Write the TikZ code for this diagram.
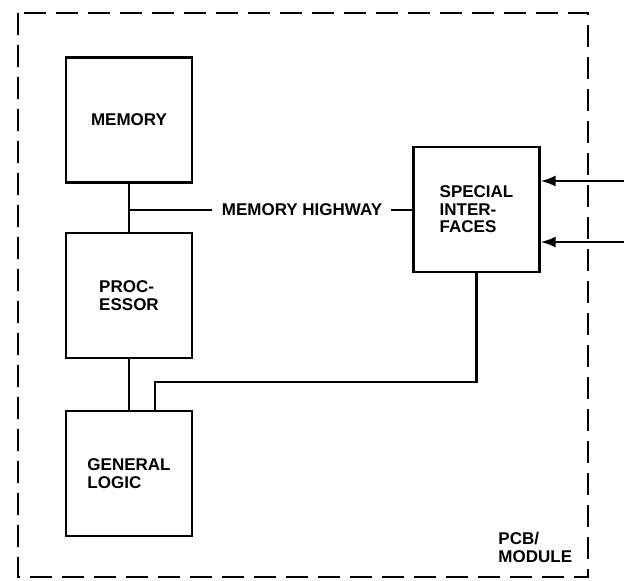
\documentclass[tikz,border=0pt]{standalone}
\usepackage{fontspec}
\setmainfont{Liberation Sans}
\usepackage{tikz}
\usetikzlibrary{arrows.meta,positioning}

\begin{document}
\begin{tikzpicture}[x=1pt,y=-1pt,line width=2.2pt,font=\fontsize{17}{17.5}\selectfont\bfseries,
    unit/.style={draw=black,minimum width=126pt,minimum height=125pt,align=left,inner sep=0pt},
    pcb/.style={draw=black,line width=2pt,dash pattern=on 22pt off 10pt}]
    \useasboundingbox (0,0) rectangle (624,581);
    % board outline
    \draw[pcb] (18,13) rectangle (588,577);
    % the units on the board
    \node[unit] at (129,120) (memory) {MEMORY};
    \node[unit] at (129,295.5) (proc) {PROC-\\ESSOR};
    \node[unit] at (129,473.5) (logic) {GENERAL\\LOGIC};
    \node[unit] at (476.5,209.5) (special) {SPECIAL\\INTER-\\FACES};
    \node[align=left,anchor=north west] at (494,528) (board) {PCB/\\MODULE};
    
    % memory highway
    \node[inner sep=0pt] at (302,210) (hwy) {MEMORY HIGHWAY};
    \coordinate (tap) at (memory.south |- hwy);
    \draw (memory.south) -- (proc.north);
    \draw (tap) -- ([xshift=-9pt]hwy.west);
    \draw ([xshift=8pt]hwy.east) -- (hwy.east -| special.west);
    \draw (proc.south) -- (logic.north);
    \coordinate (bend) at (155,382);
    \draw (special.south) |- (bend) -- (bend |- logic.north);
    
    % inputs from outside the board
    \coordinate (in1) at (624,181);
    \coordinate (in2) at (624,242);
    \draw[-{Latex[length=15pt,width=11pt]}] (in1) -- (in1 -| special.east);
    \draw[-{Latex[length=15pt,width=11pt]}] (in2) -- (in2 -| special.east);
\end{tikzpicture}
\end{document}
